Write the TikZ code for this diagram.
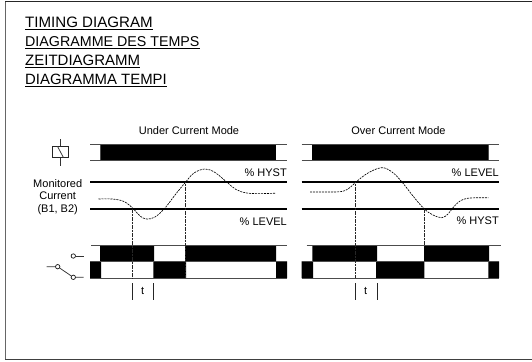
\documentclass[tikz,border=0pt]{standalone}
\usepackage{fontspec}
\setmainfont{Liberation Sans}
\tikzset{
 x=1pt,y=-1pt,
 rule/.style={line width=.8pt,draw=black!70},
 heavy/.style={line width=1.6pt,draw=black},
 blk/.style={fill=black,draw=none},
 curve/.style={line width=.65pt,dash pattern=on 2pt off 1pt,smooth,tension=.6},
 drop/.style={line width=.9pt,dash pattern=on 1.2pt off .4pt,draw=black!85},
 tick/.style={line width=.7pt,draw=black!85},
 title/.style={anchor=base west,inner sep=0pt},
 small/.style={inner sep=0pt,font=\fontsize{11}{12}\selectfont},
 lvl/.style={inner sep=0pt,anchor=base east,font=\fontsize{11}{12}\selectfont},
 sym/.style={line width=.75pt,draw=black!80},
 term/.style={circle,draw=black!90,line width=.7pt,fill=white,minimum size=4.4pt,inner sep=0pt},
}
\begin{document}
\begin{tikzpicture}
\useasboundingbox (0,0) rectangle (532,361);
% frame
\draw[line width=1pt,draw=black!60] (5,359) -- (5,2);
\draw[line width=1pt,draw=black!85] (5,2) -- (532,2);
\draw[line width=1pt,draw=black!75] (5,359) -- (532,359);
% titles
\foreach \n/\yy/\sz/\txt in {a/27.3/15.1/TIMING DIAGRAM,b/46.2/14.26/DIAGRAMME DES TEMPS,c/65.2/15/ZEITDIAGRAMM,d/84.2/14.9/DIAGRAMMA TEMPI}{
  \node[title,font=\fontsize{\sz}{15}\selectfont] (t\n) at (25,\yy) {\txt};
  \draw[line width=1pt] ([yshift=-2.7pt]t\n.base west) -- ([yshift=-2.7pt]t\n.base east);
}
\node[small] (um) at (189,130.5) {Under Current Mode};
\node[small] (om) at (398.5,130.5) {Over Current Mode};
% left labels
\node[small] (m1) at (57.7,184) {Monitored};
\node[small] (m2) at (57.7,196) {Current};
\node[small] (m3) at (57.7,210) {(B1, B2)};
% coil
\draw[sym] (60.3,139.3) -- (60.3,166);
\node[draw=black!85,line width=.75pt,fill=white,minimum width=15.6pt,minimum height=10.6pt,inner sep=0pt] (coil) at (60.5,152) {};
\draw[sym] (coil.north) ++(-3,0) -- ([xshift=3pt]coil.south);
% contacts
\node[term] (no) at (73.3,256) {};
\coordinate (noe) at (84.3,256);
\draw[sym] (no) -- (noe);
\node[term] (com) at (57.7,266.7) {};
\node[term] (nc) at (73.3,277.3) {};
\coordinate (come) at (46.7,266.7);
\coordinate (nce) at (83.6,277.3);
\draw[sym] (come) -- (com) -- (nc) -- (nce);
% LEFT PANEL
\fill[blk] (100,144.7) rectangle (276,160.7);
\draw[rule] (90,144.7) -- (287,144.7) (90,160.7) -- (287,160.7);
\draw[rule] (100,144.7) -- (100,160.7);
\draw[heavy] (90,182) -- (287,182) (90,209) -- (287,209);
\node[lvl] (h1) at (287,176.5) {\% HYST};
\node[lvl] (l1) at (287,225) {\% LEVEL};
\draw[curve] plot coordinates {(98.5,199) (112,199) (124,201.5) (133.3,208.7) (140,216) (146.7,219) (155,217) (165,208) (175,195) (185.7,182) (194,173) (205,169) (215,172.5) (226.7,182) (236,189.5) (246.7,193) (260,193.6) (276,193.2)};
\fill[blk] (100,245.3) rectangle (154,261.3) (185,245.3) rectangle (276,261.3);
\fill[blk] (90,261.3) rectangle (101,278) (153.3,261.3) rectangle (186,278) (276,261.3) rectangle (287,278);
\draw[rule] (91,245.5) -- (287,245.5) (90,261.3) -- (287,261.3) (90,278) -- (287,278);
\coordinate (a1) at (132.7,208.7); \coordinate (a2) at (132.7,278);
\coordinate (b1) at (185.5,182); \coordinate (b2) at (185.5,278);
\draw[drop] (a1) -- (a2);
\draw[drop] (b1) -- (b2);
\draw[tick] (132.7,283.3) -- (132.7,299.5) (153.7,283.3) -- (153.7,299.5);
\node[small] (t1) at (142.7,291) {t};
% RIGHT PANEL
\fill[blk] (312.3,144.7) rectangle (488.3,160.7);
\draw[rule] (301.7,144.7) -- (499,144.7) (301.7,160.7) -- (499,160.7);
\draw[rule] (488.5,144.7) -- (488.5,160.7);
\draw[heavy] (301.7,182) -- (499,182) (301.7,209) -- (499,209);
\node[lvl] (l2) at (499,176.5) {\% LEVEL};
\node[lvl] (h2) at (499,224.5) {\% HYST};
\draw[curve] plot coordinates {(310,192) (325,192) (341.7,191.5) (350,187.5) (356,182) (368,173) (381.7,167.7) (392,172) (401.7,181.7) (413,196) (424,208.7) (433,215) (441.7,217.7) (448,214) (453.3,207.3) (460,201) (468,198.2) (478,197.8) (488.3,197.7)};
\fill[blk] (312.3,245.3) rectangle (377,261.3) (424,245.3) rectangle (489,261.3);
\fill[blk] (301.7,261.3) rectangle (313,278) (376,261.3) rectangle (424.3,278) (488.3,261.3) rectangle (499,278);
\draw[rule] (306.7,245.5) -- (501,245.5) (301.7,261.3) -- (499,261.3) (301.7,278) -- (499,278);
\coordinate (c1) at (355.7,182); \coordinate (c2) at (355.7,278);
\coordinate (d1) at (424.3,208.7); \coordinate (d2) at (424.3,245.5);
\draw[drop] (c1) -- (c2);
\draw[drop] (d1) -- (d2);
\draw[tick] (355.7,283.3) -- (355.7,299.5) (377,283.3) -- (377,299.5);
\node[small] (t2) at (365.7,291) {t};
\end{tikzpicture}
\end{document}
